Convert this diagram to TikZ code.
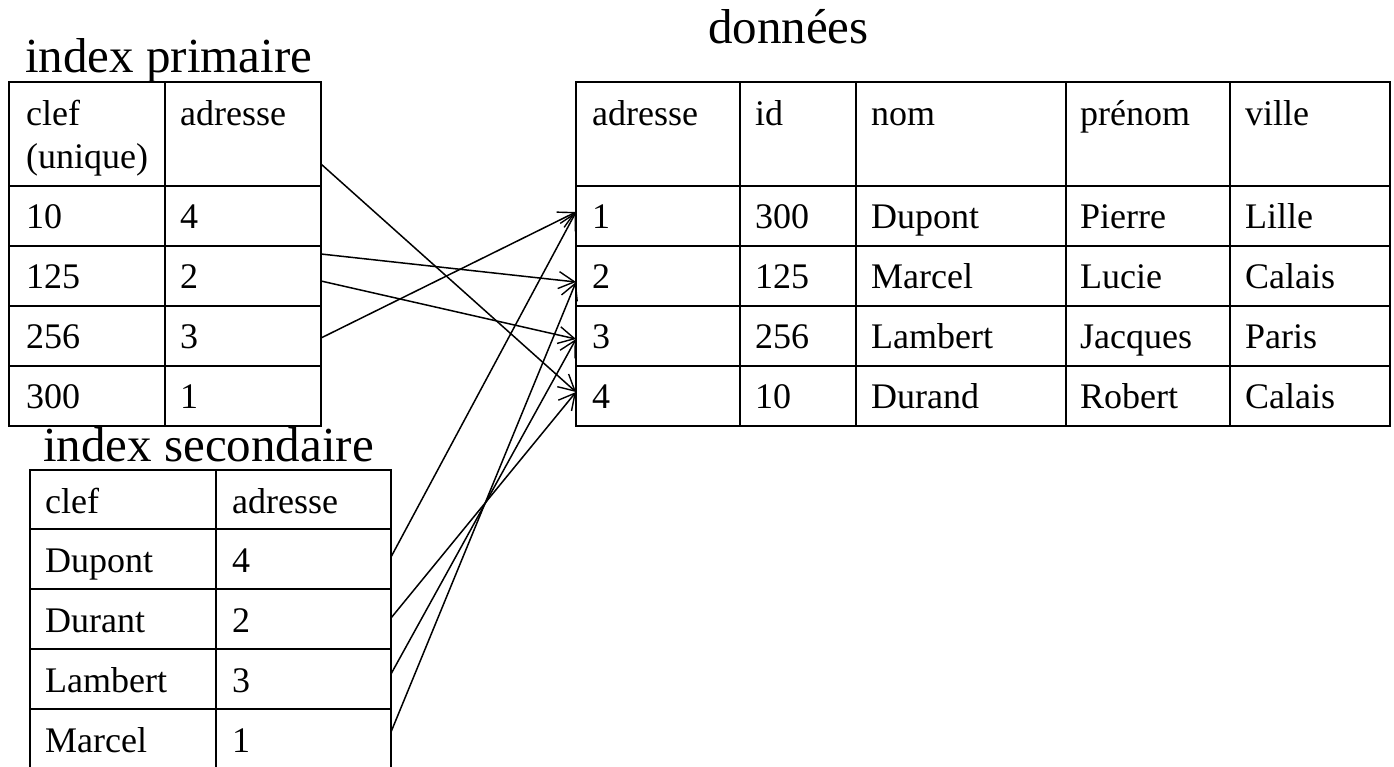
\documentclass[tikz,border=0pt]{standalone}
\usepackage{fontspec}
\setmainfont{Liberation Serif}
\usetikzlibrary{arrows.meta}

\begin{document}
\begin{tikzpicture}[x=1pt,y=-1pt,
    grid/.style={line width=2.6pt, line cap=rect},
    cell/.style={anchor=base west, inner sep=0pt, font=\fontsize{36}{41}\selectfont},
    title/.style={anchor=base west, inner sep=0pt, font=\fontsize{49}{55}\selectfont},
    link/.style={line width=1.5pt, -{Straight Barb[length=16pt,width=17pt,line width=1.4pt]}}]
\useasboundingbox (0,0) rectangle (1394,766);
\clip (0,0) rectangle (1394,766);

% ---------- titles ----------
\node[title] (tprim) at (25,72) {index primaire};
\node[title] (tsec)  at (43,461) {index secondaire};
\node[title] (tdata) at (708,43) {données};

% ---------- primary index grid ----------
\draw[grid] (9,82) rectangle (321,426);
\draw[grid] (165,82) -- (165,426);
\foreach \y in {186,246,306,366} \draw[grid] (9,\y) -- (321,\y);

\node[cell] (p-h1) at (26,125) {clef};
\node[cell] (p-h1b) at (26,168) {(unique)};
\node[cell] (p-h2) at (180,125) {adresse};
\foreach \k/\a [count=\i from 0] in {10/4,125/2,256/3,300/1} {
  \node[cell] (p-k\i) at (26,228+60*\i) {\k};
  \node[cell] (p-a\i) at (180,228+60*\i) {\a};
}

% ---------- secondary index grid ----------
\draw[grid] (30,780) -- (30,470) -- (391,470) -- (391,780);
\draw[grid] (216,470) -- (216,780);
\foreach \y in {529,589,649,709} \draw[grid] (30,\y) -- (391,\y);

\node[cell] (s-h1) at (45,513) {clef};
\node[cell] (s-h2) at (232,513) {adresse};
\foreach \k/\a [count=\i from 0] in {Dupont/4,Durant/2,Lambert/3,Marcel/1} {
  \node[cell] (s-k\i) at (45,572+60*\i) {\k};
  \node[cell] (s-a\i) at (232,572+60*\i) {\a};
}

% ---------- data table grid ----------
\draw[grid] (576,82) rectangle (1390,426);
\foreach \x in {740,856,1066,1230} \draw[grid] (\x,82) -- (\x,426);
\foreach \y in {186,246,306,366} \draw[grid] (576,\y) -- (1390,\y);

\foreach \t/\x [count=\j] in {adresse/592,id/755,nom/871,prénom/1080,ville/1245}
  \node[cell] (d-h\j) at (\x,125) {\t};
\foreach \a/\b/\c/\d/\e [count=\i] in {1/300/Dupont/Pierre/Lille,
                                       2/125/Marcel/Lucie/Calais,
                                       3/256/Lambert/Jacques/Paris,
                                       4/10/Durand/Robert/Calais} {
  \node[cell] (d-a\i) at (592,168+60*\i) {\a};
  \node[cell] (d-b\i) at (755,168+60*\i) {\b};
  \node[cell] (d-c\i) at (871,168+60*\i) {\c};
  \node[cell] (d-d\i) at (1080,168+60*\i) {\d};
  \node[cell] (d-e\i) at (1245,168+60*\i) {\e};
}

% ---------- link end points ----------
\coordinate (from-p0) at (321,164);
\coordinate (from-p1) at (321,254);
\coordinate (from-p2) at (321,281);
\coordinate (from-p3) at (321,338);
\coordinate (from-s1) at (391,557);
\coordinate (from-s2) at (391,618);
\coordinate (from-s3) at (391,674);
\coordinate (from-s4) at (391,732);
\coordinate (to-r1) at (576,212);
\coordinate (to-r2) at (576,282);
\coordinate (to-r3) at (576,339);
\coordinate (to-r4) at (576,392);

% ---------- links ----------
\draw[link] (from-p0) -- (to-r4);
\draw[link] (from-p1) -- (to-r2);
\draw[link] (from-p2) -- (to-r3);
\draw[link] (from-p3) -- (to-r1);
\draw[link] (from-s1) -- (to-r1);
\draw[link] (from-s2) -- (to-r4);
\draw[link] (from-s3) -- (to-r3);
\draw[link] (from-s4) -- (to-r2);
\end{tikzpicture}
\end{document}
